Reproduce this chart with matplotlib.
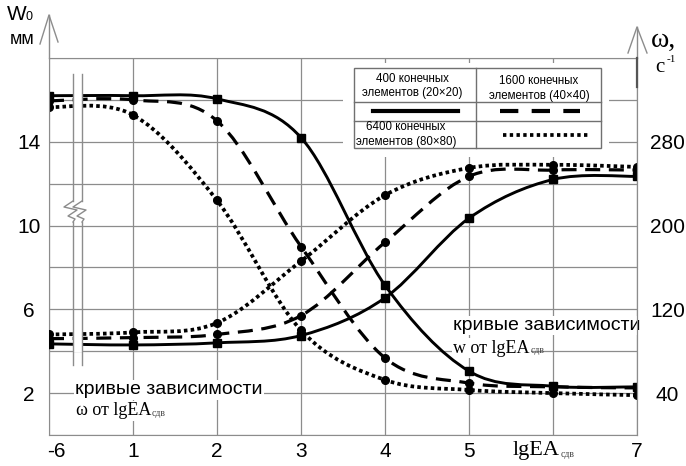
import numpy as np
import matplotlib.pyplot as plt
from matplotlib.path import Path
from matplotlib.patches import PathPatch, Rectangle
from matplotlib.lines import Line2D
from matplotlib.transforms import blended_transform_factory, ScaledTranslation

plt.rcParams['font.family'] = ['Liberation Sans', 'DejaVu Sans']
SERIF = ['Liberation Serif', 'DejaVu Serif']

#%% data
# lgEA_сдв values on the x axis (drawn at equal spacing, axis broken after -6)
lg_ea = [-6, 1, 2, 3, 4, 5, 6, 7]
x_ticklabels = ['-6', '1', '2', '3', '4', '5', '', '7']

# deflection W0, mm (left axis)
w_400 = [16.2, 16.2, 16.05, 14.2, 7.15, 3.05, 2.33, 2.3]
w_1600 = [15.95, 16.0, 15.0, 9.0, 3.68, 2.48, 2.3, 2.25]
w_6400 = [15.66, 15.28, 11.2, 5.0, 2.63, 2.15, 2.0, 1.9]

# frequency omega, 1/s (right axis)
om_400 = [87, 86, 88, 95, 131, 207, 244, 247]
om_1600 = [92, 93, 96, 114, 184, 247, 253, 253]
om_6400 = [96, 98, 107, 166, 229, 255, 258, 256]

w_ticks = [2, 6, 10, 14]
om_ticks = [40, 120, 200, 280]

#%% layout helpers (pixels of the 686x466 picture)
W, H = 686, 466
L, R, T, B = 49, 637, 58, 435
GRID = '#8c8c8c'


def fx(px):
    return (px - L) / (R - L)


def fy(py):
    return (B - py) / (B - T)


def smooth(xs, ys, k=1 / 6):
    # smoothed polyline (Catmull-Rom drawn as cubic Bezier)
    pts = np.column_stack([xs, ys]).astype(float)
    n = len(pts)
    verts, codes = [pts[0]], [Path.MOVETO]
    for i in range(n - 1):
        p0, p1 = pts[max(i - 1, 0)], pts[i]
        p2, p3 = pts[i + 1], pts[min(i + 2, n - 1)]
        verts += [p1 + (p2 - p0) * k, p2 - (p3 - p1) * k, p2]
        codes += [Path.CURVE4] * 3
    return Path(verts, codes)


def figline(xs, ys, **kw):
    fig.add_artist(Line2D([x / W for x in xs], [1 - y / H for y in ys],
                          transform=fig.transFigure, **kw))


#%% figure
fig = plt.figure(figsize=(W / 100, H / 100), dpi=100)
ax = fig.add_axes([L / W, 1 - B / H, (R - L) / W, (B - T) / H])
ax2 = ax.twinx()
pos = np.arange(len(lg_ea))

dashed = (0, (4.7, 2.7))
dotted = (0, (0.95, 0.85))
series = [
    (w_400, om_400, '-', 's', 2.1),
    (w_1600, om_1600, dashed, 'o', 2.3),
    (w_6400, om_6400, dotted, 'o', 2.7),
]
for w, om, ls, mk, lw in series:
    for a, y in ((ax, w), (ax2, om)):
        a.add_patch(PathPatch(smooth(pos, y), facecolor='none', edgecolor='black',
                              lw=lw, linestyle=ls, capstyle='butt', zorder=2))
        a.plot(pos, y, ls='none', marker=mk, ms=5.5, color='black', zorder=2.5)

ax.set_xlim(0, 7)
ax.set_ylim(0, 18)
ax2.set_ylim(0, 360)

ax.set_xticks(pos, x_ticklabels)
ax.set_yticks(np.arange(0, 19, 2),
              [str(v) if v in w_ticks else '' for v in range(0, 19, 2)])
ax.grid(True, color=GRID, lw=0.9)
ax.tick_params(length=0, labelsize=15)
ax.tick_params(axis='y', pad=14.4)
ax.tick_params(axis='x', pad=5)
for lbl in ax.get_yticklabels():
    lbl.set_ha('center')
first = ax.get_xticklabels()[0]
first.set_transform(first.get_transform() + ScaledTranslation(0.07, 0, fig.dpi_scale_trans))

ax2.set_yticks(om_ticks)
ax2.tick_params(axis='y', length=0, pad=22, labelsize=15)
for lbl in ax2.get_yticklabels():
    lbl.set_ha('center')

for s in ax.spines.values():
    s.set_color(GRID)
for name, s in ax2.spines.items():
    s.set_visible(name == 'right')
    s.set_color(GRID)

# axis arrows
figline([L, L], [T, 15], color=GRID, lw=1)
figline([40, L, 58], [44, 15, 42], color=GRID, lw=1)
figline([R, R], [T, 27], color=GRID, lw=1)
figline([628, R, 647], [53, 27, 53], color=GRID, lw=1)
figline([R, R], [T, 87], color='#555555', lw=1.6)

# axis break after -6
tA = ax2.transAxes
for y0, y1 in ((88, 114), (326, 352)):
    ax2.add_patch(Rectangle((fx(74), fy(y1)), fx(82) - fx(74), fy(y0) - fy(y1),
                            transform=tA, fc='white', ec='none', zorder=3))
for xl in (73, 82):
    for ya, yb in ((74, 201), (222, 365)):
        ax2.add_line(Line2D([fx(xl)] * 2, [fy(ya), fy(yb)], transform=tA,
                            color=GRID, lw=1, zorder=3.5))
    zx = [xl, xl - 9, xl + 4, xl - 5, xl + 2, xl]
    zy = [201, 207, 210, 216, 219, 222]
    ax2.add_line(Line2D([fx(x) for x in zx], [fy(y) for y in zy], transform=tA,
                        color=GRID, lw=1, zorder=3.5))

# legend table
ax2.add_patch(Rectangle((fx(343), fy(157)), fx(609) - fx(343), fy(63) - fy(157),
                        transform=tA, fc='white', ec='none', zorder=4))
ax2.add_patch(Rectangle((fx(354), fy(148)), fx(601) - fx(354), fy(68) - fy(148),
                        transform=tA, fc='white', ec='#707070', lw=1, zorder=4.2))
for xs, ys in (([476, 476], [68, 148]), ([354, 601], [102, 102]), ([354, 601], [121, 121])):
    ax2.add_line(Line2D([fx(x) for x in xs], [fy(y) for y in ys], transform=tA,
                        color='#707070', lw=1, zorder=4.3))
leg_kw = dict(transform=tA, fontsize=8.3, color='black', ha='center', va='center',
              linespacing=1.3, zorder=4.5)
ax2.text(fx(412), fy(86), '400 конечных\nэлементов (20×20)', **leg_kw)
ax2.text(fx(539), fy(88.5), '1600 конечных\nэлементов (40×40)', **leg_kw)
ax2.text(fx(406), fy(134.5), '6400 конечных\nэлементов (80×80)', **leg_kw)
ax2.add_line(Line2D([fx(373), fx(458)], [fy(111)] * 2, transform=tA, color='black',
                    lw=3, zorder=4.5))
ax2.add_line(Line2D([fx(500), fx(580)], [fy(111)] * 2, transform=tA, color='black',
                    lw=3, ls=(0, (4.4, 3.2)), dash_capstyle='butt', zorder=4.5))
ax2.add_line(Line2D([fx(503), fx(588)], [fy(135)] * 2, transform=tA, color='black',
                    lw=2.7, ls=(0, (0.9, 0.9)), dash_capstyle='butt', zorder=4.5))

# annotations
box = dict(fc='white', ec='none', pad=1)
ax.text(0.31, 2.15, 'кривые зависимости', fontsize=14, va='center', ha='left',
        bbox=box, zorder=1.8)
t1 = ax.text(0.32, 1.15, 'ω от lgEA', fontsize=13, family=SERIF, va='center',
             ha='left', bbox=box, zorder=1.8)
ax.annotate('сдв', xy=(1, 0), xycoords=t1, xytext=(0.5, 1), textcoords='offset points',
            fontsize=7, family=SERIF, color='#444444', va='bottom', ha='left', zorder=1.8)
ax.text(4.81, 5.23, 'кривые зависимости', fontsize=14, va='center', ha='left',
        bbox=box, zorder=1.8)
t2 = ax.text(4.81, 4.15, 'w от lgEA', fontsize=13, family=SERIF, va='center',
             ha='left', bbox=box, zorder=1.8)
ax.annotate('сдв', xy=(1, 0), xycoords=t2, xytext=(0.5, 1), textcoords='offset points',
            fontsize=7, family=SERIF, color='#444444', va='bottom', ha='left', zorder=1.8)

xl = ax.text(5.52, -0.042, 'lgEA', fontsize=16, family=SERIF, va='center', ha='left',
             transform=blended_transform_factory(ax.transData, ax.transAxes))
ax.annotate('сдв', xy=(1, 0), xycoords=xl, xytext=(0.5, 1), textcoords='offset points',
            fontsize=7, family=SERIF, color='#444444', va='bottom', ha='left')

# axis titles
fig.text(7 / W, 1 - 15 / H, 'W', fontsize=15, ha='left', va='center')
fig.text(26 / W, 1 - 17 / H, '0', fontsize=9, ha='left', va='center')
fig.text(10 / W, 1 - 40 / H, 'мм', fontsize=13, ha='left', va='center')
fig.text(651 / W, 1 - 40 / H, 'ω,', fontsize=20, family=SERIF, ha='left', va='center')
fig.text(655 / W, 1 - 67 / H, 'c', fontsize=15, family=SERIF, ha='left', va='center')
fig.text(667 / W, 1 - 60 / H, '-1', fontsize=8, family=SERIF, ha='left', va='center')

fig.savefig('out.png', dpi=100)
